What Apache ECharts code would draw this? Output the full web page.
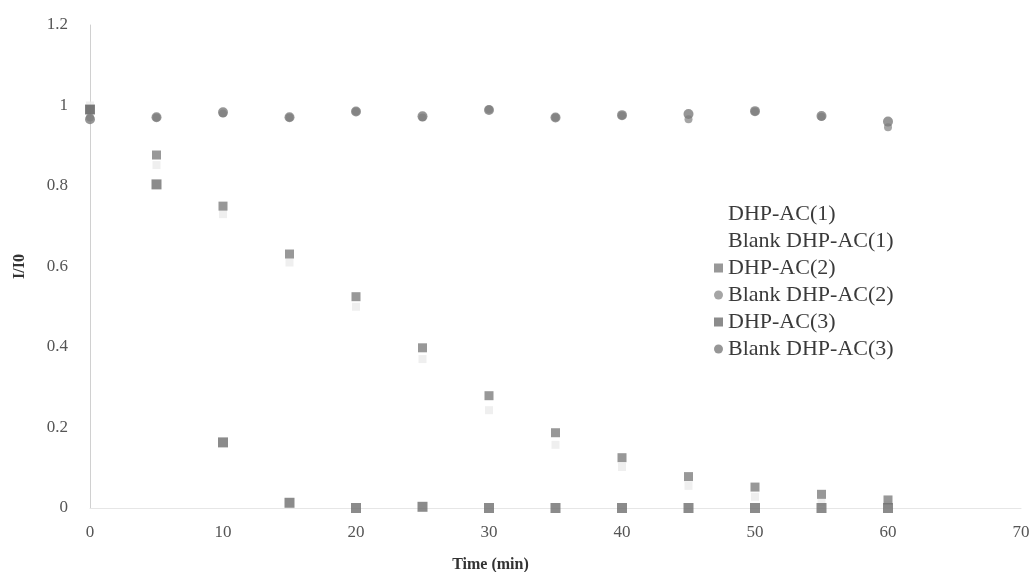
<!DOCTYPE html>
<html>
<head>
<meta charset="utf-8">
<script src="https://cdn.jsdelivr.net/npm/echarts@6/dist/echarts.min.js"></script>
<style>html,body{margin:0;padding:0;background:#fff;}#c{width:1036px;height:572px;}</style>
</head>
<body>
<div id="c"></div>
<script>
const times = [0, 5, 10, 15, 20, 25, 30, 35, 40, 45, 50, 55, 60];
const xTicks = [0, 10, 20, 30, 40, 50, 60, 70];
const yTicks = [0, 0.2, 0.4, 0.6, 0.8, 1, 1.2];
const dhp1 = [1.0, 0.852, 0.73, 0.61, 0.5, 0.37, 0.243, 0.157, 0.102, 0.055, 0.028, 0.015, 0.008];
const blank1 = [];
const dhp2 = [0.99, 0.877, 0.750, 0.631, 0.525, 0.398, 0.279, 0.187, 0.125, 0.078, 0.052, 0.034, 0.02];
const blank2 = [0.97, 0.97, 0.98, 0.97, 0.985, 0.97, 0.99, 0.97, 0.975, 0.966, 0.985, 0.972, 0.946];
const dhp3 = [0.99, 0.804, 0.163, 0.013, 0.0, 0.003, 0.0, 0.0, 0.0, 0.0, 0.0, 0.0, 0.0];
const blank3 = [0.966, 0.971, 0.983, 0.971, 0.985, 0.973, 0.989, 0.970, 0.976, 0.979, 0.986, 0.974, 0.960];
const names = ['DHP-AC(1)', 'Blank DHP-AC(1)', 'DHP-AC(2)', 'Blank DHP-AC(2)', 'DHP-AC(3)', 'Blank DHP-AC(3)'];

const pair = arr => arr.map((v, i) => [times[i], v]);
const serif = '"Liberation Serif", "DejaVu Serif", serif';

const chart = echarts.init(document.getElementById('c'));
chart.setOption({
  animation: false,
  backgroundColor: '#fff',
  grid: { left: 90, right: 15, top: 25, bottom: 64, outerBoundsMode: 'none', containLabel: false },
  xAxis: {
    type: 'value', min: 0, max: 70, interval: 10,
    name: 'Time (min)', nameLocation: 'middle', nameGap: 49,
    nameTextStyle: { fontFamily: serif, fontWeight: 'bold', fontSize: 16, color: '#333', padding: [0, 130, 0, 0] },
    axisLine: { show: true, lineStyle: { color: '#e6e6e6', width: 1 } },
    axisTick: { show: false },
    splitLine: { show: false },
    axisLabel: { fontFamily: serif, fontSize: 17, color: '#555', margin: 16,
      formatter: v => xTicks.includes(v) ? String(v) : '' }
  },
  yAxis: {
    type: 'value', min: 0, max: 1.2, interval: 0.2,
    name: 'I/I0', nameLocation: 'middle', nameGap: 62,
    nameTextStyle: { fontFamily: serif, fontWeight: 'bold', fontSize: 16, color: '#333' },
    axisLine: { show: true, lineStyle: { color: '#d0d0d0', width: 1 } },
    axisTick: { show: false },
    splitLine: { show: false },
    axisLabel: { fontFamily: serif, fontSize: 17, color: '#555', margin: 22,
      formatter: v => { const t = yTicks.find(y => Math.abs(y - v) < 1e-6); return t === undefined ? '' : String(t); } }
  },
  legend: {
    orient: 'vertical', left: 709, top: 198,
    itemWidth: 9, itemHeight: 9, itemGap: 5,
    textStyle: { fontFamily: serif, fontSize: 22, color: '#3a3a3a', lineHeight: 21 },
    data: [
      { name: names[0], itemStyle: { opacity: 0 } },
      { name: names[1], itemStyle: { opacity: 0 } },
      { name: names[2], icon: 'rect' },
      { name: names[3], icon: 'circle' },
      { name: names[4], icon: 'rect' },
      { name: names[5], icon: 'circle' }
    ]
  },
  series: [
    { name: names[0], type: 'scatter', symbol: 'rect', symbolSize: 8, data: pair(dhp1), itemStyle: { color: '#ebebeb' } },
    { name: names[1], type: 'scatter', symbol: 'circle', symbolSize: 8, data: pair(blank1), itemStyle: { color: '#f0f0f0' } },
    { name: names[2], type: 'scatter', symbol: 'rect', symbolSize: 9, data: pair(dhp2), itemStyle: { color: '#7e7e7e' } },
    { name: names[3], type: 'scatter', symbol: 'circle', symbolSize: 8, data: pair(blank2), itemStyle: { color: '#8e8e8e' } },
    { name: names[4], type: 'scatter', symbol: 'rect', symbolSize: 10, data: pair(dhp3), itemStyle: { color: '#6e6e6e' } },
    { name: names[5], type: 'scatter', symbol: 'circle', symbolSize: 10, data: pair(blank3), itemStyle: { color: '#7c7c7c' } }
  ]
});
</script>
</body>
</html>
